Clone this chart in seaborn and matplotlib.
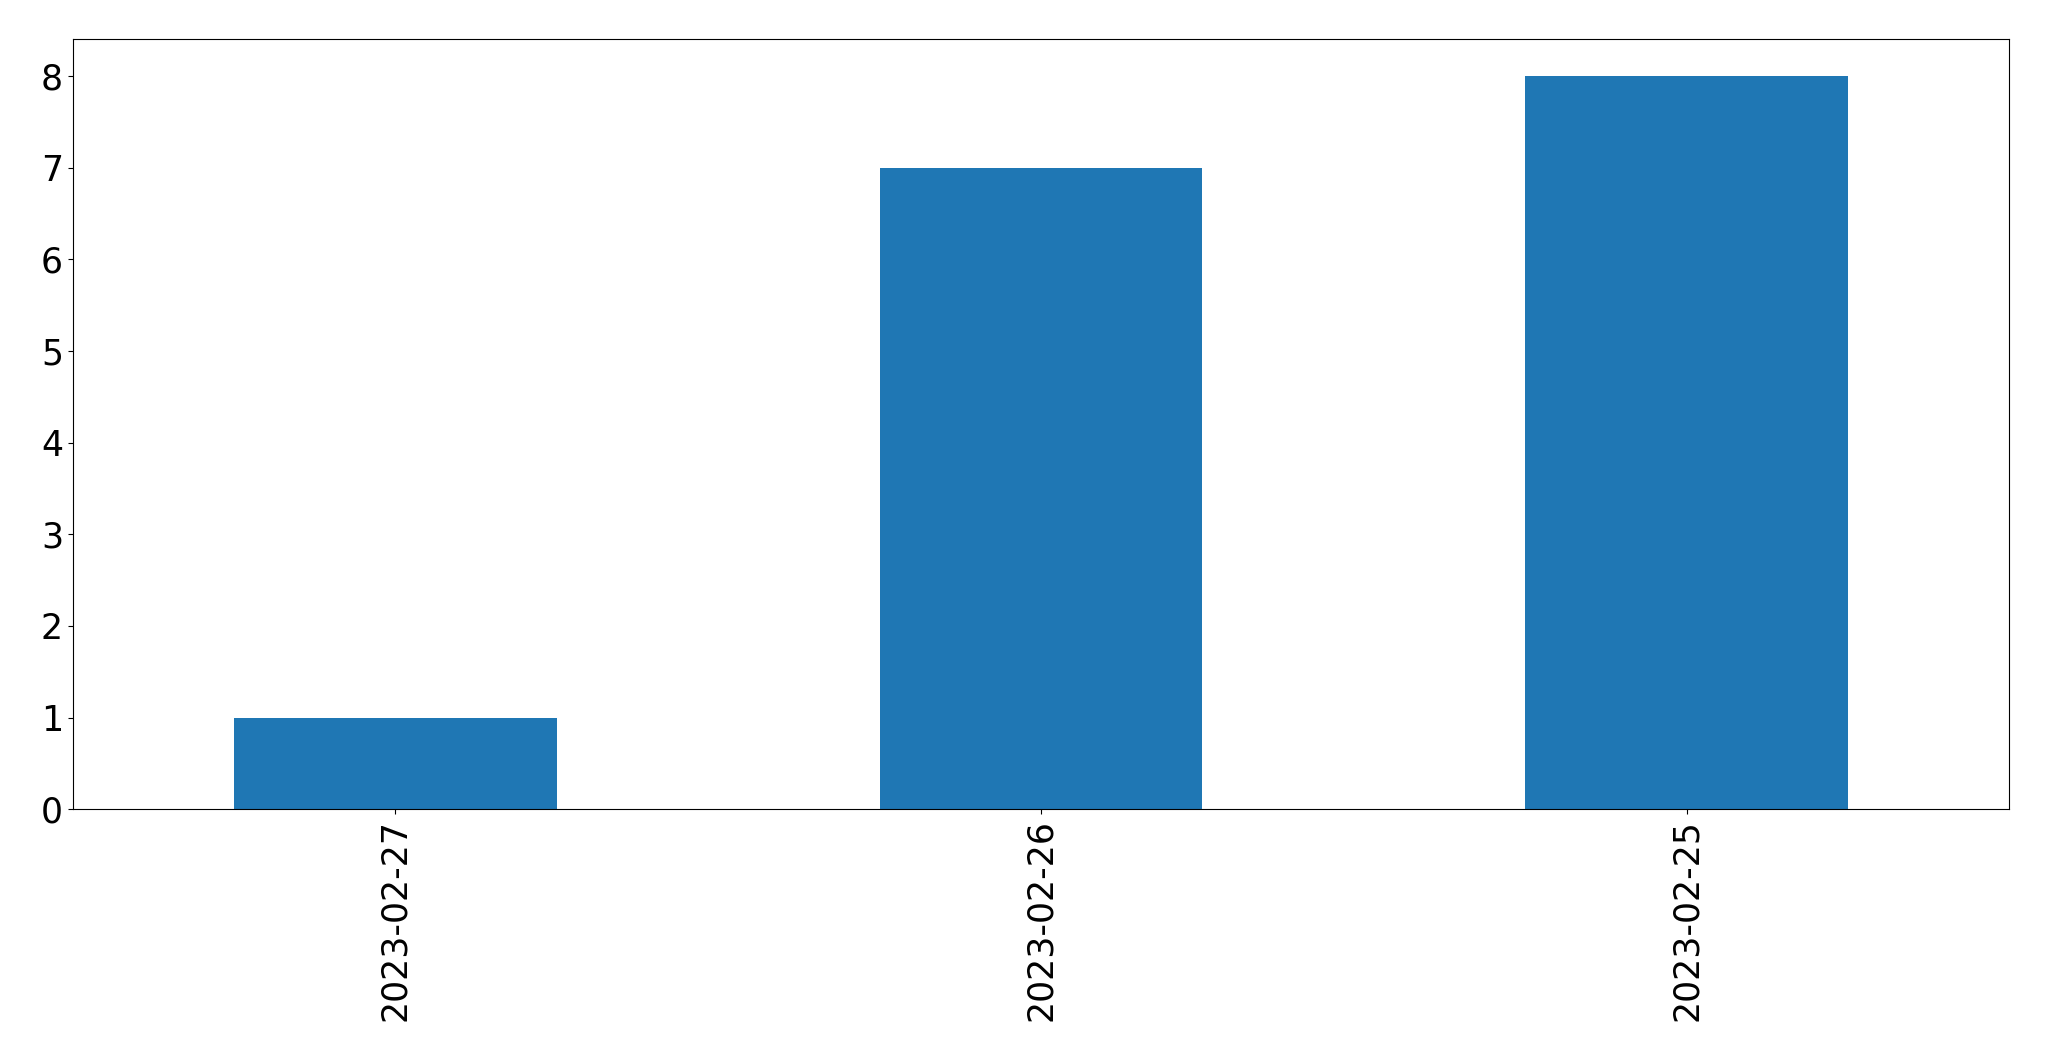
import pandas as pd
import matplotlib
matplotlib.use("Agg")
import matplotlib.pyplot as plt
import seaborn as sns

dates = ["2023-02-27", "2023-02-26", "2023-02-25"]
counts = [1, 7, 8]

df = pd.DataFrame({"date": dates, "count": counts})

fig, ax = plt.subplots(figsize=(20.49, 10.61), dpi=100)
fig.subplots_adjust(left=72.7 / 2049, right=2009.3 / 2049, top=1 - 39.3 / 1061, bottom=1 - 809.3 / 1061)

sns.barplot(data=df, x="date", y="count", order=dates, color="#1f77b4",
            saturation=1, width=0.5, ax=ax)
ax.set_xlim(-0.5, 2.5)
ax.set_xlabel("")
ax.set_ylabel("")
ax.tick_params(axis="both", labelsize=25)
ax.tick_params(axis="x", labelrotation=90)

fig.savefig("out.png", dpi=100)
